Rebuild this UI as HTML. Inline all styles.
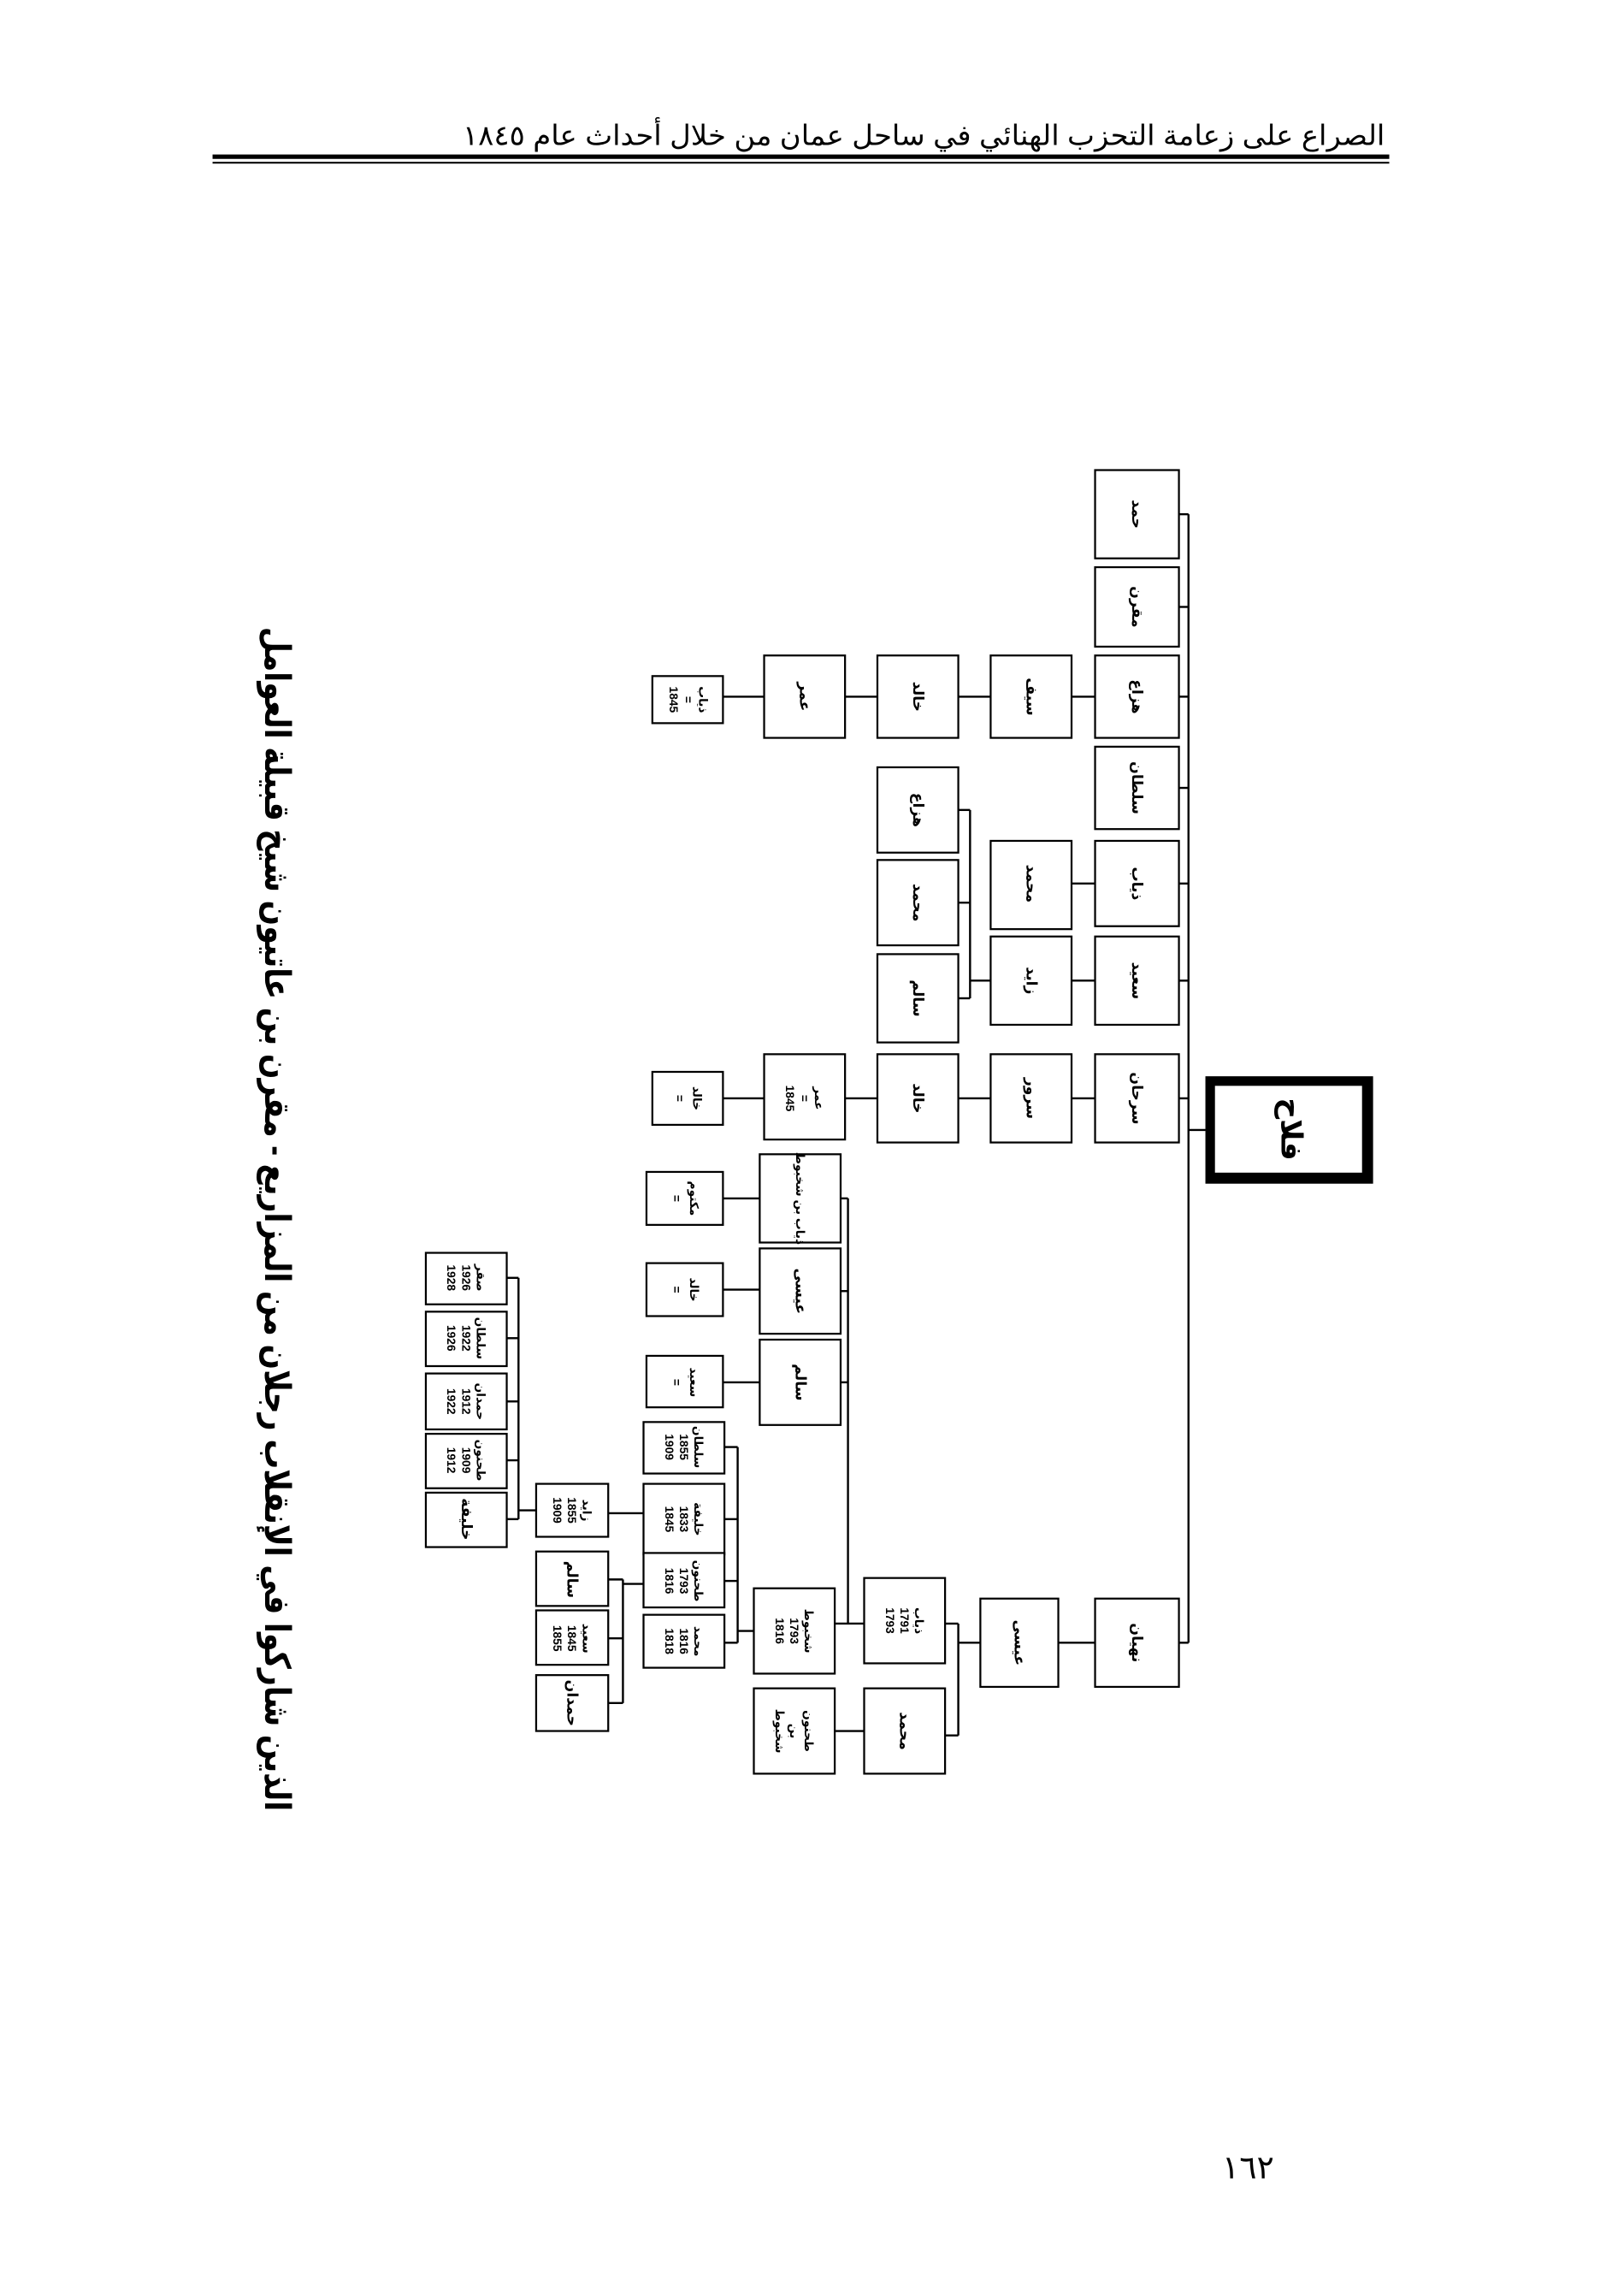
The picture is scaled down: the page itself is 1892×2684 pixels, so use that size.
<!DOCTYPE html>
<html><head><meta charset="utf-8"><style>
html,body{margin:0;padding:0;background:#fff;}
svg{display:block;}
text{font-family:"Liberation Sans","Noto Sans CJK SC","DejaVu Sans",sans-serif;fill:#000;}
.b{fill:#fff;stroke:#000;stroke-width:1.3;}
.l{stroke:#000;stroke-width:1.4;fill:none;}
.t{font-size:10px;font-weight:bold;}
.s{font-size:8px;font-weight:bold;}
</style></head><body>
<svg width="1892" height="2684" viewBox="3.5 3.5 1100 1560.5" xmlns="http://www.w3.org/2000/svg">
<!-- header -->
<text x="945" y="102" text-anchor="end" font-size="19" textLength="627" lengthAdjust="spacingAndGlyphs">الصراع على زعامة التحزب الهنائي في ساحل عمان من خلال أحداث عام ١٨٤٥</text>
<rect x="148" y="108.5" width="800" height="3" fill="#000"/>
<rect x="148" y="113.5" width="800" height="1.2" fill="#000"/>
<!-- title rotated -->
<g transform="translate(190,832) rotate(90)"><text x="0" y="0" text-anchor="middle" dominant-baseline="middle" font-size="24" font-weight="bold" textLength="805" lengthAdjust="spacingAndGlyphs">الذين شاركوا في الإنقلاب رجلان من المزاريع - مقرن بن عاتيون شيخ قبيلة العوامل</text></g>
<!-- page number -->
<text x="852" y="1484" text-anchor="middle" font-size="22">١٦٢</text>

<!-- spine -->
<line class="l" x1="811.5" y1="353" x2="811.5" y2="1120" stroke-width="2"/>
<!-- falah -->
<rect x="823" y="735" width="114" height="73" fill="#000"/>
<rect x="829" y="741" width="101" height="60" fill="#fff" stroke="#000" stroke-width="1"/>
<line class="l" x1="811.5" y1="771.5" x2="823" y2="771.5" stroke-width="2"/>
<g transform="translate(880,771) rotate(90)"><text text-anchor="middle" dominant-baseline="middle" font-size="20" font-weight="bold">فلاح</text></g>

<!-- column A -->
<g>
<rect class="b" x="748" y="323" width="57" height="60"/><line class="l" x1="805" y1="353" x2="811.5" y2="353"/>
<rect class="b" x="748" y="389" width="57" height="54"/><line class="l" x1="805" y1="416" x2="811.5" y2="416"/>
<rect class="b" x="748" y="449" width="57" height="56"/><line class="l" x1="805" y1="477" x2="811.5" y2="477"/>
<rect class="b" x="748" y="511" width="57" height="56"/><line class="l" x1="805" y1="539" x2="811.5" y2="539"/>
<rect class="b" x="748" y="575" width="57" height="58"/><line class="l" x1="805" y1="604" x2="811.5" y2="604"/>
<rect class="b" x="748" y="640" width="57" height="60"/><line class="l" x1="805" y1="670" x2="811.5" y2="670"/>
<rect class="b" x="748" y="720" width="57" height="60"/><line class="l" x1="805" y1="750" x2="811.5" y2="750"/>
<rect class="b" x="748" y="1090" width="57" height="60"/><line class="l" x1="805" y1="1120" x2="811.5" y2="1120"/>
</g>
<g class="t">
<g transform="translate(776,353) rotate(90)"><text text-anchor="middle" dominant-baseline="middle">حمد</text></g>
<g transform="translate(776,416) rotate(90)"><text text-anchor="middle" dominant-baseline="middle">مقرن</text></g>
<g transform="translate(776,477) rotate(90)"><text text-anchor="middle" dominant-baseline="middle">هزاع</text></g>
<g transform="translate(776,539) rotate(90)"><text text-anchor="middle" dominant-baseline="middle">سلطان</text></g>
<g transform="translate(776,604) rotate(90)"><text text-anchor="middle" dominant-baseline="middle">ذياب</text></g>
<g transform="translate(776,670) rotate(90)"><text text-anchor="middle" dominant-baseline="middle">سعيد</text></g>
<g transform="translate(776,750) rotate(90)"><text text-anchor="middle" dominant-baseline="middle">سرحان</text></g>
<g transform="translate(776,1120) rotate(90)"><text text-anchor="middle" dominant-baseline="middle">نهيان</text></g>
</g>

<!-- row A3 -->
<rect class="b" x="677" y="449" width="55" height="56"/>
<rect class="b" x="600" y="449" width="55" height="56"/>
<rect class="b" x="523" y="449" width="55" height="56"/>
<rect class="b" x="447" y="463" width="48" height="32"/>
<line class="l" x1="732" y1="477" x2="748" y2="477"/>
<line class="l" x1="655" y1="477" x2="677" y2="477"/>
<line class="l" x1="578" y1="477" x2="600" y2="477"/>
<line class="l" x1="495" y1="477" x2="523" y2="477"/>
<!-- A5/A6 children -->
<rect class="b" x="677" y="575" width="55" height="60"/>
<rect class="b" x="677" y="640" width="55" height="60"/>
<line class="l" x1="732" y1="604" x2="748" y2="604"/>
<line class="l" x1="732" y1="670" x2="748" y2="670"/>
<rect class="b" x="600" y="525" width="55" height="58"/>
<rect class="b" x="600" y="588" width="55" height="58"/>
<rect class="b" x="600" y="652" width="55" height="60"/>
<line class="l" x1="663" y1="554" x2="663" y2="682" stroke-width="2"/>
<line class="l" x1="655" y1="554" x2="663" y2="554"/>
<line class="l" x1="655" y1="617" x2="663" y2="617"/>
<line class="l" x1="655" y1="682" x2="663" y2="682"/>
<line class="l" x1="663" y1="670" x2="677" y2="670"/>
<!-- row A7 -->
<rect class="b" x="677" y="720" width="55" height="60"/>
<rect class="b" x="600" y="720" width="55" height="60"/>
<rect class="b" x="523" y="720" width="55" height="58"/>
<rect class="b" x="447" y="732" width="48" height="36"/>
<line class="l" x1="732" y1="750" x2="748" y2="750"/>
<line class="l" x1="655" y1="750" x2="677" y2="750"/>
<line class="l" x1="578" y1="750" x2="600" y2="750"/>
<line class="l" x1="495" y1="750" x2="523" y2="750"/>

<g class="t">
<g transform="translate(704,477) rotate(90)"><text text-anchor="middle" dominant-baseline="middle">سيف</text></g>
<g transform="translate(627,477) rotate(90)"><text text-anchor="middle" dominant-baseline="middle">خالد</text></g>
<g transform="translate(550,477) rotate(90)"><text text-anchor="middle" dominant-baseline="middle">عمر</text></g>
<g transform="translate(704,604) rotate(90)"><text text-anchor="middle" dominant-baseline="middle">محمد</text></g>
<g transform="translate(704,670) rotate(90)"><text text-anchor="middle" dominant-baseline="middle">زايد</text></g>
<g transform="translate(627,554) rotate(90)"><text text-anchor="middle" dominant-baseline="middle">هزاع</text></g>
<g transform="translate(627,617) rotate(90)"><text text-anchor="middle" dominant-baseline="middle">محمد</text></g>
<g transform="translate(627,682) rotate(90)"><text text-anchor="middle" dominant-baseline="middle">سالم</text></g>
<g transform="translate(704,750) rotate(90)"><text text-anchor="middle" dominant-baseline="middle">سرور</text></g>
<g transform="translate(627,750) rotate(90)"><text text-anchor="middle" dominant-baseline="middle">خالد</text></g>
</g>
<g class="s">
<g transform="translate(471,479) rotate(90)"><text text-anchor="middle" dominant-baseline="middle"><tspan x="0" dy="-10">ذياب</tspan><tspan x="0" dy="10">=</tspan><tspan x="0" dy="10">1845</tspan></text></g>
<g transform="translate(550,750) rotate(90)"><text text-anchor="middle" dominant-baseline="middle"><tspan x="0" dy="-10">عمر</tspan><tspan x="0" dy="10">=</tspan><tspan x="0" dy="10">1845</tspan></text></g>
<g transform="translate(471,750) rotate(90)"><text text-anchor="middle" dominant-baseline="middle"><tspan x="0" dy="-6">خالد</tspan><tspan x="0" dy="12">=</tspan></text></g>
</g>

<!-- A8 subtree -->
<rect class="b" x="670" y="1090" width="53" height="60"/>
<line class="l" x1="723" y1="1120" x2="748" y2="1120"/>
<line class="l" x1="655" y1="1107" x2="655" y2="1183" stroke-width="2"/>
<line class="l" x1="655" y1="1120" x2="670" y2="1120"/>
<rect class="b" x="591" y="1076" width="55" height="58"/>
<rect class="b" x="591" y="1151" width="55" height="58"/>
<line class="l" x1="646" y1="1107" x2="655" y2="1107"/>
<line class="l" x1="646" y1="1183" x2="655" y2="1183"/>
<rect class="b" x="516" y="1083" width="55" height="58"/>
<rect class="b" x="516" y="1151" width="55" height="58"/>
<line class="l" x1="571" y1="1180" x2="591" y2="1180"/>
<line class="l" x1="580" y1="818" x2="580" y2="1107" stroke-width="1.8"/>
<line class="l" x1="571" y1="1107" x2="591" y2="1107"/>
<!-- upper children -->
<rect class="b" x="520" y="788" width="55" height="60"/>
<rect class="b" x="520" y="852" width="55" height="58"/>
<rect class="b" x="520" y="914" width="55" height="58"/>
<line class="l" x1="575" y1="818" x2="580" y2="818"/>
<line class="l" x1="575" y1="881" x2="580" y2="881"/>
<line class="l" x1="575" y1="943" x2="580" y2="943"/>
<rect class="b" x="443" y="800" width="52" height="36"/>
<rect class="b" x="443" y="862" width="52" height="36"/>
<rect class="b" x="443" y="925" width="52" height="35"/>
<line class="l" x1="495" y1="818" x2="520" y2="818"/>
<line class="l" x1="495" y1="880" x2="520" y2="880"/>
<line class="l" x1="495" y1="943" x2="520" y2="943"/>
<!-- left bracket -->
<line class="l" x1="505" y1="987" x2="505" y2="1120" stroke-width="1.8"/>
<line class="l" x1="505" y1="1112" x2="516" y2="1112" stroke-width="1.8"/>
<rect class="b" x="441" y="970" width="55" height="35"/>
<rect class="b" x="441" y="1012" width="55" height="48"/>
<rect class="b" x="441" y="1059" width="55" height="37"/>
<rect class="b" x="441" y="1101" width="55" height="36"/>
<line class="l" x1="496" y1="987" x2="505" y2="987"/>
<line class="l" x1="496" y1="1036" x2="505" y2="1036"/>
<line class="l" x1="496" y1="1078" x2="505" y2="1078"/>
<line class="l" x1="496" y1="1120" x2="505" y2="1120"/>
<!-- tahnoun children -->
<line class="l" x1="427" y1="1077" x2="427" y2="1161" stroke-width="1.8"/>
<line class="l" x1="427" y1="1080" x2="441" y2="1080"/>
<rect class="b" x="368" y="1058" width="49" height="37"/>
<rect class="b" x="368" y="1098" width="49" height="37"/>
<rect class="b" x="368" y="1142" width="49" height="38"/>
<line class="l" x1="417" y1="1077" x2="427" y2="1077"/>
<line class="l" x1="417" y1="1117" x2="427" y2="1117"/>
<line class="l" x1="417" y1="1161" x2="427" y2="1161"/>
<!-- zayed -->
<rect class="b" x="368" y="1012" width="49" height="36"/>
<line class="l" x1="417" y1="1032" x2="441" y2="1032"/>
<line class="l" x1="356" y1="872" x2="356" y2="1036" stroke-width="1.8"/>
<line class="l" x1="356" y1="1030" x2="368" y2="1030"/>
<rect class="b" x="293" y="855" width="55" height="35"/>
<rect class="b" x="293" y="895" width="55" height="37"/>
<rect class="b" x="293" y="937" width="55" height="38"/>
<rect class="b" x="293" y="978" width="55" height="37"/>
<rect class="b" x="293" y="1018" width="55" height="37"/>
<line class="l" x1="348" y1="872" x2="356" y2="872"/>
<line class="l" x1="348" y1="913" x2="356" y2="913"/>
<line class="l" x1="348" y1="956" x2="356" y2="956"/>
<line class="l" x1="348" y1="996" x2="356" y2="996"/>
<line class="l" x1="348" y1="1036" x2="356" y2="1036"/>

<g class="t">
<g transform="translate(696,1120) rotate(90)"><text text-anchor="middle" dominant-baseline="middle">عيسى</text></g>
<g transform="translate(618,1180) rotate(90)"><text text-anchor="middle" dominant-baseline="middle">محمد</text></g>
<g transform="translate(547,881) rotate(90)"><text text-anchor="middle" dominant-baseline="middle">عيسى</text></g>
<g transform="translate(547,943) rotate(90)"><text text-anchor="middle" dominant-baseline="middle">سالم</text></g>
<g transform="translate(547,818) rotate(90)"><text text-anchor="middle" dominant-baseline="middle" font-size="8">ذياب بن شخبوط</text></g>
<g transform="translate(392,1077) rotate(90)"><text text-anchor="middle" dominant-baseline="middle">سالم</text></g>
<g transform="translate(392,1161) rotate(90)"><text text-anchor="middle" dominant-baseline="middle">حمدان</text></g>
<g transform="translate(320,1036) rotate(90)"><text text-anchor="middle" dominant-baseline="middle">خليفة</text></g>
</g>
<g class="s">
<g transform="translate(618,1105) rotate(90)"><text text-anchor="middle" dominant-baseline="middle"><tspan x="0" dy="-10">ذياب</tspan><tspan x="0" dy="10">1791</tspan><tspan x="0" dy="10">1793</tspan></text></g>
<g transform="translate(543,1112) rotate(90)"><text text-anchor="middle" dominant-baseline="middle"><tspan x="0" dy="-10">شخبوط</tspan><tspan x="0" dy="10">1793</tspan><tspan x="0" dy="10">1816</tspan></text></g>
<g transform="translate(543,1180) rotate(90)"><text text-anchor="middle" dominant-baseline="middle"><tspan x="0" dy="-10">طحنون</tspan><tspan x="0" dy="10">بن</tspan><tspan x="0" dy="10">شخبوط</tspan></text></g>
<g transform="translate(469,818) rotate(90)"><text text-anchor="middle" dominant-baseline="middle"><tspan x="0" dy="-6">مكتوم</tspan><tspan x="0" dy="12">=</tspan></text></g>
<g transform="translate(469,880) rotate(90)"><text text-anchor="middle" dominant-baseline="middle"><tspan x="0" dy="-6">خالد</tspan><tspan x="0" dy="12">=</tspan></text></g>
<g transform="translate(469,943) rotate(90)"><text text-anchor="middle" dominant-baseline="middle"><tspan x="0" dy="-6">سعيد</tspan><tspan x="0" dy="12">=</tspan></text></g>
<g transform="translate(468,987) rotate(90)"><text text-anchor="middle" dominant-baseline="middle"><tspan x="0" dy="-10">سلطان</tspan><tspan x="0" dy="10">1855</tspan><tspan x="0" dy="10">1909</tspan></text></g>
<g transform="translate(468,1036) rotate(90)"><text text-anchor="middle" dominant-baseline="middle"><tspan x="0" dy="-10">خليفة</tspan><tspan x="0" dy="10">1833</tspan><tspan x="0" dy="10">1845</tspan></text></g>
<g transform="translate(468,1078) rotate(90)"><text text-anchor="middle" dominant-baseline="middle"><tspan x="0" dy="-10">طحنون</tspan><tspan x="0" dy="10">1793</tspan><tspan x="0" dy="10">1816</tspan></text></g>
<g transform="translate(468,1119) rotate(90)"><text text-anchor="middle" dominant-baseline="middle"><tspan x="0" dy="-10">محمد</tspan><tspan x="0" dy="10">1816</tspan><tspan x="0" dy="10">1818</tspan></text></g>
<g transform="translate(392,1117) rotate(90)"><text text-anchor="middle" dominant-baseline="middle"><tspan x="0" dy="-10">سعيد</tspan><tspan x="0" dy="10">1845</tspan><tspan x="0" dy="10">1855</tspan></text></g>
<g transform="translate(392,1030) rotate(90)"><text text-anchor="middle" dominant-baseline="middle"><tspan x="0" dy="-10">زايد</tspan><tspan x="0" dy="10">1855</tspan><tspan x="0" dy="10">1909</tspan></text></g>
<g transform="translate(320,872) rotate(90)"><text text-anchor="middle" dominant-baseline="middle"><tspan x="0" dy="-10">صقر</tspan><tspan x="0" dy="10">1926</tspan><tspan x="0" dy="10">1928</tspan></text></g>
<g transform="translate(320,913) rotate(90)"><text text-anchor="middle" dominant-baseline="middle"><tspan x="0" dy="-10">سلطان</tspan><tspan x="0" dy="10">1922</tspan><tspan x="0" dy="10">1926</tspan></text></g>
<g transform="translate(320,956) rotate(90)"><text text-anchor="middle" dominant-baseline="middle"><tspan x="0" dy="-10">حمدان</tspan><tspan x="0" dy="10">1912</tspan><tspan x="0" dy="10">1922</tspan></text></g>
<g transform="translate(320,996) rotate(90)"><text text-anchor="middle" dominant-baseline="middle"><tspan x="0" dy="-10">طحنون</tspan><tspan x="0" dy="10">1909</tspan><tspan x="0" dy="10">1912</tspan></text></g>
</g>
</svg>
</body></html>
